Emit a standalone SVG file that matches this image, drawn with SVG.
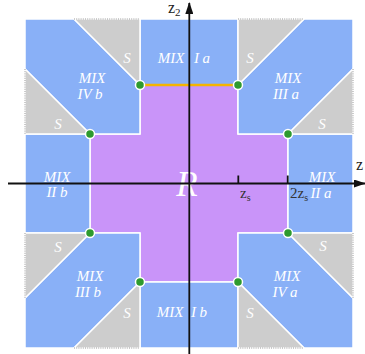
<svg xmlns="http://www.w3.org/2000/svg" width="365" height="354" viewBox="0 0 365 354">
<defs>
<style>
.blue{fill:#89b0f7;stroke:#fff;stroke-width:1.5;stroke-linejoin:round}
.gray{fill:#cdcdcd;stroke:#fff;stroke-width:1.5;stroke-linejoin:round}
.purple{fill:#c994f9;stroke:#fff;stroke-width:1.5}
.dot{stroke:#9a9a9a;stroke-width:1;stroke-dasharray:1 1.2;fill:none}
.pt{fill:#2e9a2e;stroke:#fff;stroke-width:1.5}
.lab{fill:#fff;font-family:"Liberation Serif",serif;font-style:italic;font-size:15px;text-anchor:middle}
.ax{stroke:#111;stroke-width:1.8;fill:none}
.axl{fill:#222;font-family:"Liberation Serif",serif;font-size:16px}
.tk{fill:#333;font-family:"Liberation Serif",serif;font-size:15px}
</style>
<marker id="arr" viewBox="0 0 12 8" refX="11" refY="4" markerWidth="12" markerHeight="8" markerUnits="userSpaceOnUse" orient="auto">
<path d="M0,0 L12,4 L0,8 Z" fill="#111"/>
</marker>
</defs>
<rect x="0" y="0" width="365" height="354" fill="#fff"/>

<g id="R">
<polygon class="purple" points="140,85 238,85 238,134 288,134 288,233 238,233 238,282 140,282 140,233 90,233 90,134 140,134"/>
<text x="187" y="196" class="lab" style="font-size:35px">R</text>
</g>
<g id="mix-Ia">
<rect class="blue" x="140" y="19" width="98" height="66"/>
<text class="lab" y="63"><tspan x="171">MIX</tspan><tspan x="202">I a</tspan></text>
</g>
<g id="mix-Ib">
<rect class="blue" x="140" y="282" width="98" height="66"/>
<text class="lab" y="317"><tspan x="170">MIX</tspan><tspan x="199">I b</tspan></text>
</g>
<g id="mix-IIa">
<rect class="blue" x="288" y="134" width="65" height="99"/>
<text class="lab" y="182" x="322">MIX</text>
<text class="lab" y="198" x="321">II a</text>
</g>
<g id="mix-IIb">
<rect class="blue" x="25" y="134" width="65" height="99"/>
<text class="lab" y="182" x="57">MIX</text>
<text class="lab" y="197" x="57">II b</text>
</g>
<g id="mix-IVb">
<polygon class="blue" points="25,19 74,19 140,85 140,134 90,134 25,69"/>
<text class="lab" x="92" y="83">MIX</text>
<text class="lab" x="90" y="99">IV b</text>
</g>
<g id="mix-IIIa">
<polygon class="blue" points="304,19 353,19 353,69 288,134 238,134 238,85"/>
<text class="lab" x="288" y="83">MIX</text>
<text class="lab" x="286" y="99">III a</text>
</g>
<g id="mix-IIIb">
<polygon class="blue" points="90,233 140,233 140,282 74,348 25,348 25,298"/>
<text class="lab" x="90" y="281">MIX</text>
<text class="lab" x="88" y="297">III b</text>
</g>
<g id="mix-IVa">
<polygon class="blue" points="238,233 288,233 353,298 353,348 304,348 238,282"/>
<text class="lab" x="287" y="281">MIX</text>
<text class="lab" x="285" y="297">IV a</text>
</g>

<g id="S-tl1"><polygon class="gray" points="74,19 140,19 140,85"/><line class="dot" x1="74" y1="19" x2="140" y2="19"/><text class="lab" x="127" y="63">S</text></g>
<g id="S-tl2"><polygon class="gray" points="25,69 90,134 25,134"/><line class="dot" x1="25" y1="69" x2="25" y2="134"/><text class="lab" x="58" y="129">S</text></g>
<g id="S-tr1"><polygon class="gray" points="238,19 304,19 238,85"/><line class="dot" x1="238" y1="19" x2="304" y2="19"/><text class="lab" x="250" y="63">S</text></g>
<g id="S-tr2"><polygon class="gray" points="353,69 353,134 288,134"/><line class="dot" x1="353" y1="69" x2="353" y2="134"/><text class="lab" x="322" y="129">S</text></g>
<g id="S-bl1"><polygon class="gray" points="25,233 90,233 25,298"/><line class="dot" x1="25" y1="233" x2="25" y2="298"/><text class="lab" x="58" y="252">S</text></g>
<g id="S-bl2"><polygon class="gray" points="140,282 140,348 74,348"/><line class="dot" x1="74" y1="348" x2="140" y2="348"/><text class="lab" x="127" y="318">S</text></g>
<g id="S-br1"><polygon class="gray" points="288,233 353,233 353,298"/><line class="dot" x1="353" y1="233" x2="353" y2="298"/><text class="lab" x="323" y="251">S</text></g>
<g id="S-br2"><polygon class="gray" points="238,282 304,348 238,348"/><line class="dot" x1="238" y1="348" x2="304" y2="348"/><text class="lab" x="250" y="318">S</text></g>

<g id="connectors">
<line x1="140" y1="85" x2="238" y2="85" stroke="#f4b400" stroke-width="2.5"/>
<line class="ax" x1="189.3" y1="354" x2="189.3" y2="3" marker-end="url(#arr)"/>
<line class="ax" x1="8" y1="183.5" x2="365" y2="183.5" marker-end="url(#arr)"/>
<line class="ax" x1="238.3" y1="175.5" x2="238.3" y2="183.5"/>
<line class="ax" x1="287.7" y1="175.5" x2="287.7" y2="183.5"/>
</g>

<g id="points">
<circle class="pt" cx="140" cy="85" r="4.5"/>
<circle class="pt" cx="238" cy="85" r="4.5"/>
<circle class="pt" cx="90" cy="134" r="4.5"/>
<circle class="pt" cx="288" cy="134" r="4.5"/>
<circle class="pt" cx="90" cy="233" r="4.5"/>
<circle class="pt" cx="288" cy="233" r="4.5"/>
<circle class="pt" cx="140" cy="282" r="4.5"/>
<circle class="pt" cx="238" cy="282" r="4.5"/>
</g>

<g id="axis-labels">
<text class="axl" x="168" y="13">z<tspan font-size="11" dy="3">2</tspan></text>
<text class="axl" x="356" y="170">z</text>
<text class="tk" x="240" y="198">z<tspan font-size="10" dy="3">s</tspan></text>
<text class="tk" x="290" y="198">2z<tspan font-size="10" dy="3">s</tspan></text>
</g>
</svg>
